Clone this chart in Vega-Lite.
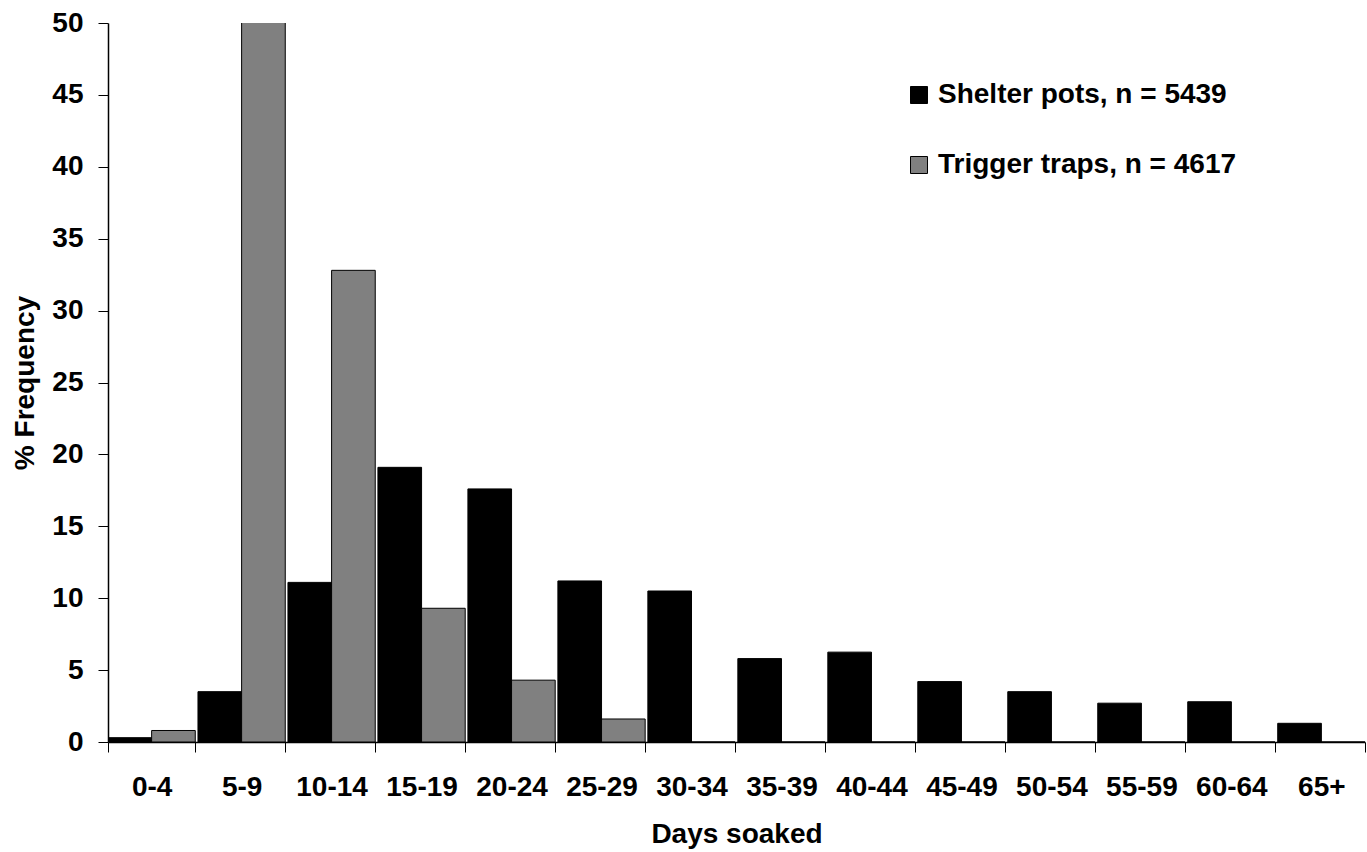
{
  "$schema": "https://vega.github.io/schema/vega-lite/v6.json",
  "autosize": {"type": "none"},
  "width": 1257,
  "height": 719,
  "padding": {"left": 108, "top": 23, "right": 2, "bottom": 110},
  "background": "white",
  "config": {
    "view": {"stroke": null},
    "font": "Liberation Sans",
    "axis": {"labelFont": "Liberation Sans", "titleFont": "Liberation Sans", "labelFontWeight": "bold", "titleFontWeight": "bold", "labelFontSize": 28, "titleFontSize": 28, "labelColor": "black", "titleColor": "black", "domainColor": "black", "tickColor": "black", "grid": false},
    "legend": {"labelFont": "Liberation Sans", "labelFontWeight": "bold", "labelFontSize": 28, "labelColor": "black", "labelLimit": 0}
  },
  "data": {"values": [
    {"days": "0-4", "series": "Shelter pots, n = 5439", "pct": 0.3},
    {"days": "0-4", "series": "Trigger traps, n = 4617", "pct": 0.8},
    {"days": "5-9", "series": "Shelter pots, n = 5439", "pct": 3.5},
    {"days": "5-9", "series": "Trigger traps, n = 4617", "pct": 52.0},
    {"days": "10-14", "series": "Shelter pots, n = 5439", "pct": 11.1},
    {"days": "10-14", "series": "Trigger traps, n = 4617", "pct": 32.8},
    {"days": "15-19", "series": "Shelter pots, n = 5439", "pct": 19.1},
    {"days": "15-19", "series": "Trigger traps, n = 4617", "pct": 9.3},
    {"days": "20-24", "series": "Shelter pots, n = 5439", "pct": 17.6},
    {"days": "20-24", "series": "Trigger traps, n = 4617", "pct": 4.3},
    {"days": "25-29", "series": "Shelter pots, n = 5439", "pct": 11.2},
    {"days": "25-29", "series": "Trigger traps, n = 4617", "pct": 1.6},
    {"days": "30-34", "series": "Shelter pots, n = 5439", "pct": 10.5},
    {"days": "30-34", "series": "Trigger traps, n = 4617", "pct": 0},
    {"days": "35-39", "series": "Shelter pots, n = 5439", "pct": 5.8},
    {"days": "35-39", "series": "Trigger traps, n = 4617", "pct": 0},
    {"days": "40-44", "series": "Shelter pots, n = 5439", "pct": 6.25},
    {"days": "40-44", "series": "Trigger traps, n = 4617", "pct": 0},
    {"days": "45-49", "series": "Shelter pots, n = 5439", "pct": 4.2},
    {"days": "45-49", "series": "Trigger traps, n = 4617", "pct": 0},
    {"days": "50-54", "series": "Shelter pots, n = 5439", "pct": 3.5},
    {"days": "50-54", "series": "Trigger traps, n = 4617", "pct": 0},
    {"days": "55-59", "series": "Shelter pots, n = 5439", "pct": 2.7},
    {"days": "55-59", "series": "Trigger traps, n = 4617", "pct": 0},
    {"days": "60-64", "series": "Shelter pots, n = 5439", "pct": 2.8},
    {"days": "60-64", "series": "Trigger traps, n = 4617", "pct": 0},
    {"days": "65+", "series": "Shelter pots, n = 5439", "pct": 1.3},
    {"days": "65+", "series": "Trigger traps, n = 4617", "pct": 0}
  ]},
  "mark": {"type": "bar", "clip": true, "stroke": "black", "strokeWidth": 1},
  "encoding": {
    "x": {
      "field": "days", "type": "nominal", "sort": null,
      "scale": {"paddingInner": 0.03, "paddingOuter": 0},
      "axis": {"title": "Days soaked", "labelAngle": 0, "tickBand": "extent", "tickSize": 10, "labelPadding": 21, "titlePadding": 19, "domainWidth": 1.5}
    },
    "xOffset": {"field": "series", "type": "nominal", "sort": null},
    "y": {
      "field": "pct", "type": "quantitative",
      "scale": {"domain": [0, 50], "nice": false},
      "axis": {"title": "% Frequency", "values": [0, 5, 10, 15, 20, 25, 30, 35, 40, 45, 50], "tickSize": 10, "labelPadding": 15, "titlePadding": 12, "domainWidth": 1.5}
    },
    "fill": {
      "field": "series", "type": "nominal", "sort": null,
      "scale": {"range": ["#000000", "#808080"]},
      "legend": {"title": null, "orient": "none", "legendX": 797, "legendY": 58, "symbolType": "square", "symbolSize": 289, "symbolStrokeColor": "black", "symbolStrokeWidth": 1, "rowPadding": 42, "labelOffset": 5}
    }
  }
}
